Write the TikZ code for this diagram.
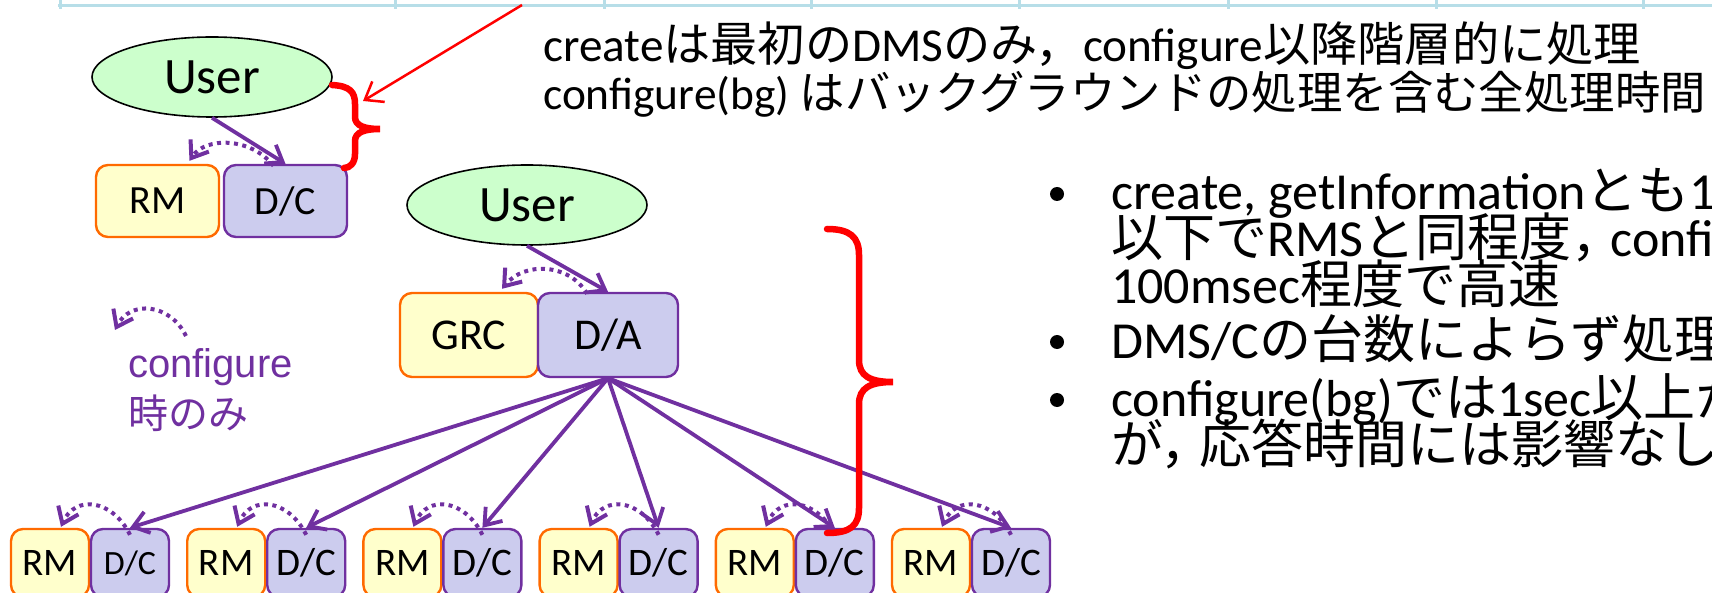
\documentclass[tikz,border=0pt]{standalone}
\usepackage{fontspec}
\setmainfont{Carlito}
\newfontfamily\jp{Noto Sans CJK JP}
\newfontfamily\arialf{Liberation Sans}
\usetikzlibrary{arrows.meta,shapes.geometric,calc}

\definecolor{vio}{HTML}{7030A0}
\definecolor{orng}{HTML}{FF6A00}
\definecolor{rmfill}{HTML}{FFFFCC}
\definecolor{dcfill}{HTML}{CCCCEE}
\definecolor{userfill}{HTML}{CCFFCC}
\definecolor{tblblue}{HTML}{B7DEE8}
\definecolor{hot}{HTML}{FF0000}

% ideographic comma with a narrower advance
\newcommand\jcomma{{\jp ，}\kern-0.25em}

\begin{document}
\begin{tikzpicture}[x=1pt,y=-1pt,
  usr/.style={ellipse, draw=black, line width=1.6pt, fill=userfill,
    minimum width=240pt, minimum height=80pt, inner sep=0pt,
    font=\fontsize{51}{51}\selectfont},
  rmbox/.style={draw=orng, fill=rmfill, line width=2.4pt, rounded corners=12pt, inner sep=0pt},
  dcbox/.style={draw=vio, fill=dcfill, line width=2.4pt, rounded corners=12pt, inner sep=0pt},
  call/.style={draw=vio, line width=3.8pt, -{Straight Barb[length=15pt,width=22pt]}},
  cfg/.style={draw=vio, line width=4pt, dash pattern=on 4pt off 4.5pt,
    -{Straight Barb[length=15pt,width=22pt]}},
  redbrace/.style={draw=hot, line width=6.5pt, line cap=round},
  tbl/.style={draw=tblblue, line width=3pt},
  txt/.style={anchor=base west, inner sep=0pt},
  bigtxt/.style={txt, text height=34pt, text depth=9pt},
  bultxt/.style={txt, text height=36pt, text depth=8pt, font=\fontsize{52}{52}\selectfont},
  legtxt/.style={txt, text=vio, text height=31pt, text depth=8pt},
  bul/.style={circle, fill=black, minimum size=14pt, inner sep=0pt},
]
\useasboundingbox (0,0) rectangle (1712,593);

% table rule along the top edge
\draw[tbl] (58,6) -- (1712,6);
\foreach \x in {60,395,604,811,1019,1228,1436,1643}
  \draw[tbl] (\x,0) -- (\x,9);

% notes at the top
\node[bigtxt, font=\fontsize{47.2}{47.2}\selectfont] (note1) at (543,62)
  {create{\jp は最初の}DMS{\jp のみ，}configure{\jp 以降階層的に処理}};
\node[bigtxt, font=\fontsize{45.4}{45.4}\selectfont] (note2) at (543,110)
  {configure(bg) {\jp はバックグラウンドの処理を含む全処理時間}};

% single DMS
\node[usr] (u1) at (212,77) {User};
\node[rmbox, minimum width=123pt, minimum height=72pt, font=\fontsize{40}{40}\selectfont] (rm0) at (157.5,201) {RM};
\node[dcbox, minimum width=123pt, minimum height=72pt, font=\fontsize{40}{40}\selectfont] (dc0) at (285.5,201) {D/C};
\draw[call] (u1.south) -- (dc0.north);
\draw[cfg] ($(dc0.north)+(-12,2)$) .. controls +(-23,-29) and +(16,-24) .. ($(rm0.north)+(32,-3)$);

% hierarchical DMS
\node[usr] (u2) at (527,205) {User};
\node[rmbox, minimum width=138pt, minimum height=84pt, font=\fontsize{44}{44}\selectfont] (grc) at (469,335) {GRC};
\node[dcbox, minimum width=140pt, minimum height=84pt, font=\fontsize{44}{44}\selectfont] (da) at (608,335) {D/A};
\draw[call] (u2.south) -- (da.north);
\draw[cfg] ($(da.north)+(-21,2)$) .. controls +(-17,-30) and +(23,-28) .. ($(grc.north)+(33,-3)$);

\foreach \i/\fs in {0/34,1/39,2/39,3/39,4/39,5/39}{
  \pgfmathsetmacro\cx{50+176.2*\i}
  \node[rmbox, minimum width=78pt, minimum height=68pt, font=\fontsize{39}{39}\selectfont] (rmb\i) at (\cx,563) {RM};
  \node[dcbox, minimum width=78pt, minimum height=68pt, font=\fontsize{\fs}{\fs}\selectfont] (dcb\i) at (\cx+80,563) {D/C};
}
\foreach \i in {0,...,5}{
  \draw[call] (da.south) -- (dcb\i.north);
  \draw[cfg] ($(dcb\i.north)+(0,7)$) .. controls +(-18,-36) and +(14,-32) .. ($(rmb\i.north)+(11,-1)$);
}

% legend for the dotted arrows
\coordinate (legS) at (186,336);
\coordinate (legE) at (115,330);
\draw[cfg] (legS) .. controls +(-16,-33) and +(15,-30) .. (legE);
\node[legtxt, font={\arialf\fontsize{40}{40}\selectfont}] (leg1) at (128,377) {configure};
\node[legtxt, font={\jp\fontsize{40}{40}\selectfont}] (leg2) at (128,428) {時のみ};

% braces and pointer
\draw[redbrace] (332,85) .. controls (350,86) and (355,92) .. (355,104) -- (355,117)
  .. controls (355,126) and (365,129) .. (380,129)
  .. controls (365,129) and (355,132) .. (355,141) -- (355,154)
  .. controls (355,163) and (350,168) .. (344,168);
\draw[redbrace] (827,229) .. controls (850,229) and (859,237) .. (859,255) -- (859,360)
  .. controls (859,376) and (870,382) .. (893,382)
  .. controls (870,382) and (859,388) .. (859,404) -- (859,508)
  .. controls (859,526) and (850,533) .. (827,533);
\coordinate (ptrA) at (522,5);
\coordinate (ptrB) at (363,101);
\draw[draw=hot, line width=2.5pt, -{Straight Barb[length=16pt,width=24pt]}] (ptrA) -- (ptrB);

% findings
\node[bul] (b1) at (1057,194) {};
\node[bul] (b2) at (1057,342) {};
\node[bul] (b3) at (1057,400) {};
\node[bultxt] (r1) at (1111,210) {create, getInformation{\jp とも}1};
\node[bultxt] (r2) at (1111,257) {{\jp 以下で}RMS{\jp と同程度}\jcomma config};
\node[bultxt] (r3) at (1111,304) {100msec{\jp 程度で高速}};
\node[bultxt] (r4) at (1111,358) {DMS/C{\jp の台数によらず処理}};
\node[bultxt] (r5) at (1111,416) {configure(bg){\jp では}1sec{\jp 以上か}};
\node[bultxt] (r6) at (1111,463) {{\jp が}\jcomma{\jp 応答時間には影響なし}};
\end{tikzpicture}
\end{document}
